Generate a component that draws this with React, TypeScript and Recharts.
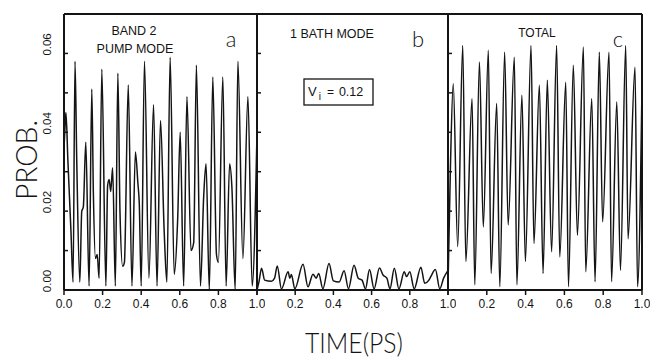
import React from 'react';
import { LineChart, Line, XAxis, YAxis, ReferenceLine } from 'recharts';

// Panel a: band 2 pump mode
const pumpTime = [0, 0.006, 0.010, 0.020, 0.036, 0.047, 0.057, 0.066, 0.082, 0.092, 0.100, 0.113, 0.130, 0.144, 0.152, 0.163, 0.172, 0.182, 0.196, 0.217, 0.226, 0.234, 0.242, 0.252, 0.266, 0.279, 0.290, 0.304, 0.313, 0.333, 0.352, 0.370, 0.383, 0.390, 0.400, 0.417, 0.440, 0.464, 0.482, 0.500, 0.519, 0.533, 0.550, 0.571, 0.589, 0.602, 0.620, 0.637, 0.658, 0.672, 0.686, 0.707, 0.724, 0.736, 0.753, 0.771, 0.790, 0.800, 0.823, 0.840, 0.858, 0.870, 0.887, 0.901, 0.927, 0.953, 0.975, 1.0];
const pumpProb = [0.036, 0.042, 0.045, 0.033, 0.015, 0.002, 0.058, 0.033, 0.002, 0.020, 0.021, 0.0375, 0.001, 0.051, 0.025, 0.008, 0.009, 0.003, 0.056, 0.001, 0.0265, 0.028, 0.025, 0.031, 0.001, 0.055, 0.020, 0.006, 0.007, 0.052, 0.001, 0.035, 0.027, 0.022, 0.001, 0.058, 0.003, 0.047, 0.001, 0.043, 0.015, 0.002, 0.059, 0.004, 0.018, 0.040, 0.001, 0.049, 0.010, 0.012, 0.057, 0.001, 0.024, 0.032, 0.000, 0.054, 0.009, 0.007, 0.054, 0.001, 0.032, 0.026, 0.000, 0.058, 0.008, 0.049, 0.001, 0.040];

// Panel b: 1 bath mode
const bathTime = [0, 0.010, 0.024, 0.040, 0.075, 0.092, 0.106, 0.128, 0.163, 0.172, 0.180, 0.198, 0.241, 0.267, 0.293, 0.310, 0.323, 0.345, 0.377, 0.400, 0.430, 0.456, 0.479, 0.508, 0.530, 0.550, 0.568, 0.589, 0.613, 0.641, 0.660, 0.680, 0.696, 0.719, 0.743, 0.771, 0.783, 0.800, 0.823, 0.858, 0.878, 0.900, 0.910, 0.934, 0.957, 0.977, 1.0];
const bathProb = [0.000, 0.002, 0.0055, 0.0025, 0.0022, 0.003, 0.0061, 0.0003, 0.0046, 0.003, 0.0039, 0.0003, 0.0065, 0.0008, 0.004, 0.003, 0.0042, 0.0003, 0.0067, 0.0023, 0.002, 0.0049, 0.0003, 0.0063, 0.003, 0.0025, 0.0003, 0.0052, 0.0003, 0.0056, 0.0038, 0.003, 0.0003, 0.0055, 0.0003, 0.0046, 0.0034, 0.0046, 0.0003, 0.0058, 0.0017, 0.0025, 0.0034, 0.0052, 0.0003, 0.003, 0.005];

// Panel c: total
const totalTime = [0, 0.012, 0.027, 0.050, 0.076, 0.092, 0.124, 0.138, 0.162, 0.182, 0.208, 0.222, 0.251, 0.267, 0.292, 0.310, 0.342, 0.355, 0.381, 0.399, 0.428, 0.443, 0.471, 0.490, 0.512, 0.534, 0.560, 0.576, 0.607, 0.621, 0.646, 0.667, 0.698, 0.710, 0.741, 0.758, 0.780, 0.797, 0.830, 0.843, 0.870, 0.889, 0.916, 0.928, 0.964, 0.977, 1.0];
const totalProb = [0.001, 0.030, 0.0523, 0.011, 0.062, 0.0072, 0.0485, 0.0013, 0.0578, 0.016, 0.0608, 0.0042, 0.0473, 0.0008, 0.0603, 0.0165, 0.059, 0.0013, 0.0494, 0.0072, 0.062, 0.0118, 0.0519, 0.0042, 0.0532, 0.0097, 0.062, 0.0084, 0.0527, 0.0008, 0.057, 0.0139, 0.0616, 0.0046, 0.0485, 0.0021, 0.0603, 0.0173, 0.0603, 0.0021, 0.0477, 0.005, 0.062, 0.013, 0.0565, 0.0008, 0.0515];

const xTicks = [0, 0.2, 0.4, 0.6, 0.8, 1.0];
const yTicks = [0, 0.01, 0.02, 0.03, 0.04, 0.05, 0.06, 0.07];
const yLabelTicks = [0, 0.02, 0.04, 0.06];

const FONT = '"Liberation Sans", Arial, Helvetica, sans-serif';
const LIGHT = 'Lato, "Open Sans", "Liberation Sans", sans-serif';
const INK = '#141414';

const rows = (ts: number[], vs: number[]) => ts.map((t, i) => ({ t, p: vs[i] }));

const YTickLabel = (props: any) => {
  const { x, y, payload } = props;
  if (!yLabelTicks.some((v) => Math.abs(v - payload.value) < 1e-9)) return <g />;
  const cx = x - 19;
  const cy = y - 9;
  return (
    <text
      transform={`translate(${cx},${cy}) rotate(-90)`}
      textAnchor="middle"
      dominantBaseline="central"
      fontSize={11.5}
      fontFamily={FONT}
      fill={INK}
    >
      {payload.value.toFixed(2)}
    </text>
  );
};

const NoTick = () => <g />;

const makeXTick = (skipZero: boolean) => (props: any) => {
  const { x, y, payload } = props;
  if (skipZero && payload.value === 0) return <g />;
  return (
    <text x={x} y={y + 11} textAnchor="middle" fontSize={12} fontFamily={FONT} fill={INK}>
      {payload.value.toFixed(1)}
    </text>
  );
};

type PanelProps = { left: number; width: number; data: { t: number; p: number }[]; first: boolean };

const ML = 64;

function Panel({ left, width, data, first }: PanelProps) {
  return (
    <div style={{ position: 'absolute', left: left - ML, top: 0 }}>
      <LineChart
        width={width + ML + 8}
        height={330}
        data={data}
        margin={{ top: 14, right: 8, bottom: 0, left: 24 }}
      >
        <XAxis
          dataKey="t"
          type="number"
          domain={[0, 1]}
          ticks={xTicks}
          interval={0}
          height={40}
          tickSize={5}
          tickLine={{ stroke: INK, strokeWidth: 1.5 }}
          axisLine={{ stroke: INK, strokeWidth: 2 }}
          tick={makeXTick(!first)}
        />
        <YAxis
          type="number"
          domain={[0, 0.07]}
          ticks={yTicks}
          interval={0}
          width={40}
          tickSize={-4}
          tickLine={{ stroke: INK, strokeWidth: 1.5 }}
          axisLine={{ stroke: INK, strokeWidth: 2 }}
          tick={first ? YTickLabel : NoTick}
        />
        <ReferenceLine y={0.07} stroke={INK} strokeWidth={2} />
        <ReferenceLine x={1} stroke={INK} strokeWidth={2} />
        <Line
          dataKey="p"
          type="monotone"
          dot={false}
          stroke={INK}
          strokeWidth={1.5}
          isAnimationActive={false}
        />
      </LineChart>
    </div>
  );
}

export default function App() {
  const txt = { fontFamily: FONT, fill: INK } as const;
  const light = { fontFamily: LIGHT, fontWeight: 300, fill: INK } as const;
  return (
    <div style={{ position: 'absolute', left: 0, top: 0, width: 651, height: 360, background: '#fff', overflow: 'hidden' }}>
      <Panel left={64} width={193} data={rows(pumpTime, pumpProb)} first={true} />
      <Panel left={257} width={191} data={rows(bathTime, bathProb)} first={false} />
      <Panel left={448} width={194} data={rows(totalTime, totalProb)} first={false} />
      <svg width={651} height={360} style={{ position: 'absolute', left: 0, top: 0, pointerEvents: 'none' }}>
        <text
          transform="translate(25,160) rotate(-90)"
          textAnchor="middle"
          dominantBaseline="central"
          fontSize={30}
          textLength={80}
          lengthAdjust="spacingAndGlyphs"
          {...light}
        >
          PROB.
        </text>
        <text x={354} y={353} textAnchor="middle" fontSize={27} textLength={98} lengthAdjust="spacingAndGlyphs" {...light}>
          TIME(PS)
        </text>

        <text x={134} y={35} textAnchor="middle" fontSize={12.5} {...txt}>BAND 2</text>
        <text x={135} y={53} textAnchor="middle" fontSize={12.5} {...txt}>PUMP MODE</text>
        <text x={231} y={47} textAnchor="middle" fontSize={22} {...light}>a</text>

        <text x={332} y={38} textAnchor="middle" fontSize={12.5} {...txt}>1 BATH MODE</text>
        <text x={418} y={47} textAnchor="middle" fontSize={22} {...light}>b</text>
        <rect x={304} y={79} width={69} height={26} fill="none" stroke={INK} strokeWidth={1.3} />
        <text x={308} y={96} fontSize={13} {...txt}>
          V<tspan dx={2} dy={4} fontSize={10}>i</tspan>
          <tspan dx={6} dy={-4} fontSize={12}>=</tspan>
          <tspan dx={5} fontSize={12.5}>0.12</tspan>
        </text>

        <text x={537} y={37} textAnchor="middle" fontSize={12} {...txt}>TOTAL</text>
        <text x={618} y={47} textAnchor="middle" fontSize={22} {...light}>c</text>
      </svg>
    </div>
  );
}
